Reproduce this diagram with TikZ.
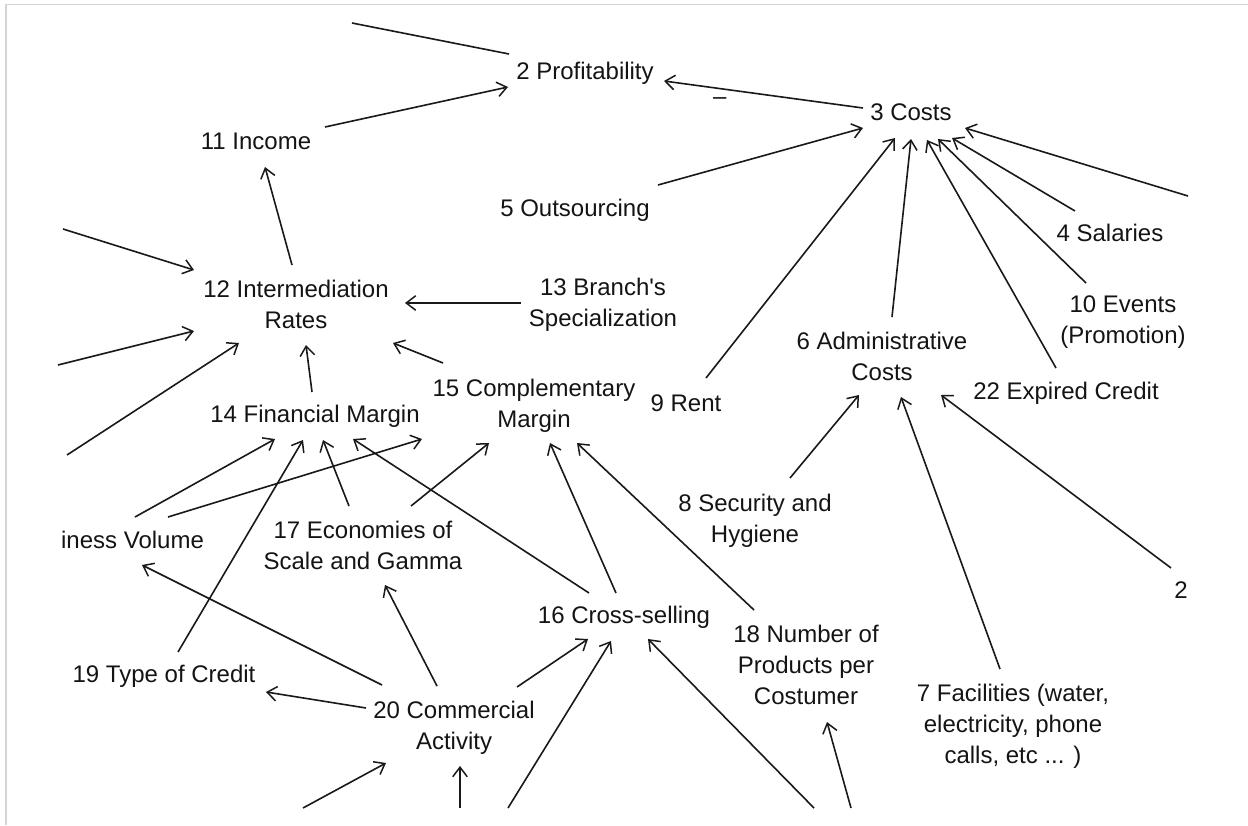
\documentclass[tikz,border=0pt]{standalone}
\usepackage{fontspec}
\setmainfont{Liberation Sans}[Ligatures=TeXOff]
\usetikzlibrary{arrows.meta,calc}
\begin{document}
\begin{tikzpicture}[x=1pt,y=-1pt,
  lbl/.style={inner sep=0pt, align=center, font=\fontsize{24}{31}\selectfont, text=black!92},
  arr/.style={draw=black!90, line width=1.6pt, -{Straight Barb[length=9.5pt,width=14.5pt,line width=1.5pt]}},
  ln/.style={draw=black!90, line width=1.6pt},
  frameline/.style={draw=black!17, line width=1.6pt}]
\useasboundingbox[fill=white] (0,0) rectangle (1248,825);
\draw[frameline] (6,825) -- (6,4.5) -- (1248,4.5);

% nodes
\node[lbl] (n2)  at (585,73.5)  {2 Profitability};
\node[lbl] (n3)  at (911,112.5) {3 Costs};
\node[lbl] (n11) at (256,141)   {11 Income};
\node[lbl] (n5)  at (575,210.5) {5 Outsourcing};
\node[lbl] (n4)  at (1110,233)  {4 Salaries};
\node[lbl] (n10) at (1123,322)  {10 Events\\(Promotion)};
\node[lbl] (n6)  at (882,356)   {6 Administrative\\Costs};
\node[lbl] (n22) at (1066,393.5){22 Expired Credit};
\node[lbl] (n9)  at (686,403)   {9 Rent};
\node[lbl] (n12) at (296,304)   {12 Intermediation\\Rates};
\node[lbl] (n13) at (603,305)   {13 Branch's\\Specialization};
\node[lbl] (n14) at (315,416.5) {14 Financial Margin};
\node[lbl] (n15) at (534,406)   {15 Complementary\\Margin};
\node[lbl] (n21) at (132.5,540) {iness Volume};
\node[lbl] (n17) at (363,545)   {17 Economies of\\Scale and Gamma};
\node[lbl] (n8)  at (755,521)   {8 Security and\\Hygiene};
\node[lbl] (n2b) at (1181,590)  {2};
\node[lbl] (n16) at (624,617.5) {16 Cross-selling};
\node[lbl] (n18) at (806,665)   {18 Number of\\Products per\\Costumer};
\node[lbl] (n19) at (164,676.5) {19 Type of Credit};
\node[lbl] (n20) at (454,728)   {20 Commercial\\Activity};
\node[lbl] (n7)  at (1013,726)  {7 Facilities (water,\\electricity, phone\\calls, etc ... )};

% free ends (outside the visible area)
\coordinate (c1)  at (352,23);
\coordinate (c2)  at (1188,196);
\coordinate (c3)  at (63,229);
\coordinate (c4)  at (58,365);
\coordinate (c5)  at (67,455);
\coordinate (c6)  at (303,808);
\coordinate (c7)  at (460,808);
\coordinate (c8)  at (508,808);
\coordinate (c9)  at (814,808);
\coordinate (c10) at (851,808);

% connectors
\draw[ln]  ($(n2)+(-76,-19.5)$) -- (c1);
\draw[arr] ($(n11)+(69,-14)$) -- ($(n2)+(-77,13.5)$);
\draw[arr] ($(n3)+(-48,-4.5)$) -- node[lbl, pos=0.72, yshift=-12.5pt] (minus) {–} ($(n2)+(79,7.5)$);
\draw[arr] ($(n5)+(83,-25.5)$) -- ($(n3)+(-48,15.5)$);
\draw[arr] ($(n9)+(20,-25)$) -- ($(n3)+(-16,25.5)$);
\draw[arr] ($(n6)+(10,-39)$) -- ($(n3)+(0,26.5)$);
\draw[arr] ($(n22)+(-10,-25.5)$) -- ($(n3)+(16,27.5)$);
\draw[arr] ($(n10)+(-37,-39)$) -- ($(n3)+(27,26.5)$);
\draw[arr] ($(n4)+(-35,-22)$) -- ($(n3)+(41,25.5)$);
\draw[arr] (c2) -- ($(n3)+(54,15.5)$);
\draw[arr] ($(n12)+(-4,-39)$) -- ($(n11)+(9,26)$);
\draw[arr] (c3) -- ($(n12)+(-102,-34)$);
\draw[arr] (c4) -- ($(n12)+(-102,27)$);
\draw[arr] (c5) -- ($(n12)+(-57,39)$);
\draw[arr] ($(n14)+(-3,-24.5)$) -- ($(n12)+(10,41)$);
\draw[arr] ($(n13)+(-82,-2)$) -- ($(n12)+(109,-1)$);
\draw[arr] ($(n15)+(-91,-43)$) -- ($(n12)+(97,39)$);
\draw[arr] ($(n21)+(2.5,-23)$) -- ($(n14)+(-40,22.5)$);
\draw[arr] ($(n21)+(35.5,-23)$) -- ($(n15)+(-112,33)$);
\draw[arr] ($(n19)+(14,-24.5)$) -- ($(n14)+(-12,23.5)$);
\draw[arr] ($(n17)+(-14,-39)$) -- ($(n14)+(8,23.5)$);
\draw[arr] ($(n16)+(-35,-24.5)$) -- ($(n14)+(38,22.5)$);
\draw[arr] ($(n17)+(48,-39)$) -- ($(n15)+(-45,37)$);
\draw[arr] ($(n16)+(-8,-24.5)$) -- ($(n15)+(16,37)$);
\draw[arr] ($(n18)+(-52,-55)$) -- ($(n15)+(43,37)$);
\draw[arr] ($(n20)+(-72,-43)$) -- ($(n21)+(9.5,25)$);
\draw[arr] ($(n20)+(-17,-42)$) -- ($(n17)+(22,40)$);
\draw[arr] ($(n20)+(-88,-20)$) -- ($(n19)+(102,15.5)$);
\draw[arr] ($(n20)+(63,-41)$) -- ($(n16)+(-36,21.5)$);
\draw[arr] (c6) -- ($(n20)+(-68,35)$);
\draw[arr] (c7) -- ($(n20)+(6,38)$);
\draw[arr] (c8) -- ($(n16)+(-13,23.5)$);
\draw[arr] (c9) -- ($(n16)+(24,21.5)$);
\draw[arr] (c10) -- ($(n18)+(21,57)$);
\draw[arr] ($(n8)+(35,-43)$) -- ($(n6)+(-23,39)$);
\draw[arr] ($(n7)+(-13,-57)$) -- ($(n6)+(19,41)$);
\draw[arr] ($(n2b)+(-10,-22)$) -- ($(n6)+(59,39)$);
\end{tikzpicture}
\end{document}
